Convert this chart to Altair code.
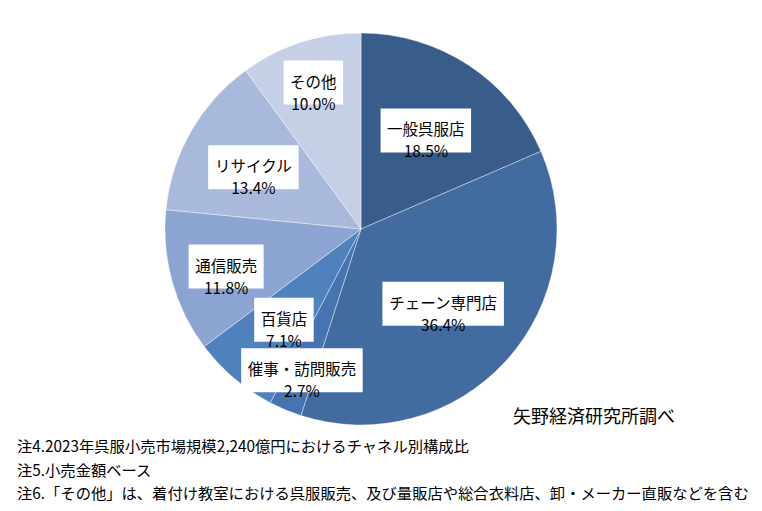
import altair as alt
import pandas as pd

# ---- data ----
names = ["一般呉服店", "チェーン専門店", "催事・訪問販売", "百貨店", "通信販売", "リサイクル", "その他"]
shares = [18.5, 36.4, 2.7, 7.1, 11.8, 13.4, 10.0]

# ---- styling / layout (not data) ----
colors = ["#385D8A", "#426BA0", "#4674B0", "#4F81BD", "#8BA4D1", "#A9B9DB", "#C5D0E6"]
label_radius = [118, 111, 153, 119, 140, 124, 154]   # Excel "best fit" label distances
CX, CY, R = 361, 229, 196
FONT = "Noto Sans CJK JP"

source_note = "矢野経済研究所調べ"
notes = [
    "注4.2023年呉服小売市場規模2,240億円におけるチャネル別構成比",
    "注5.小売金額ベース",
    "注6.「その他」は、着付け教室における呉服販売、及び量販店や総合衣料店、卸・メーカー直販などを含む",
]

df = pd.DataFrame({
    "name": names,
    "share": shares,
    "order": list(range(len(names))),
    "lr": label_radius,
})

base = alt.Chart(df)

pie = base.mark_arc(radius=R, stroke="white", strokeWidth=0.4).encode(
    theta=alt.Theta("share:Q", stack=True),
    order=alt.Order("order:Q"),
    color=alt.Color("name:N", scale=alt.Scale(domain=names, range=colors), legend=None),
    x=alt.value(CX),
    y=alt.value(CY),
)

lab = base.transform_joinaggregate(
    total="sum(share)"
).transform_window(
    cum="sum(share)", sort=[alt.SortField("order")], frame=[None, 0]
).transform_calculate(
    mid="(datum.cum - datum.share/2) / datum.total * 2 * PI",
    lx=f"{CX} + datum.lr * sin(datum.mid)",
    ly=f"{CY} - datum.lr * cos(datum.mid)",
    bw="length(datum.name) * 15.5 + 13",
    x1="datum.lx - datum.bw/2",
    x2="datum.lx + datum.bw/2",
    y1="datum.ly - 22",
    y2="datum.ly + 22",
    label="datum.name + '\\n' + format(datum.share, '.1f') + '%'",
)

boxes = lab.mark_rect(color="white").encode(
    x=alt.X("x1:Q", scale=None, axis=None),
    x2="x2:Q",
    y=alt.Y("y1:Q", scale=None, axis=None),
    y2="y2:Q",
)

texts = lab.mark_text(
    font=FONT, fontSize=15.5, lineHeight=22, lineBreak="\n", color="black",
    align="center", baseline="middle",
).encode(
    x=alt.X("lx:Q", scale=None, axis=None),
    y=alt.Y("ly:Q", scale=None, axis=None),
    text="label:N",
)

src = alt.Chart(pd.DataFrame({"t": [source_note]})).mark_text(
    font=FONT, fontSize=18, align="left", baseline="middle", color="black"
).encode(x=alt.value(513), y=alt.value(418), text="t:N")

note_df = pd.DataFrame({"t": notes, "i": list(range(len(notes)))})
note_layer = alt.Chart(note_df).mark_text(
    font=FONT, fontSize=15.3, align="left", baseline="middle", color="black"
).encode(
    x=alt.value(17),
    y=alt.Y("i:Q", scale=alt.Scale(domain=[0, 2], range=[447, 494]), axis=None),
    text="t:N",
)

chart = alt.layer(pie, boxes, texts, src, note_layer).properties(
    width=762, height=511, autosize="none", padding=0,
    background="white",
).configure_view(stroke=None).resolve_scale(y="independent")

chart.save("out.html", embed_options={"renderer": "svg", "actions": False})
